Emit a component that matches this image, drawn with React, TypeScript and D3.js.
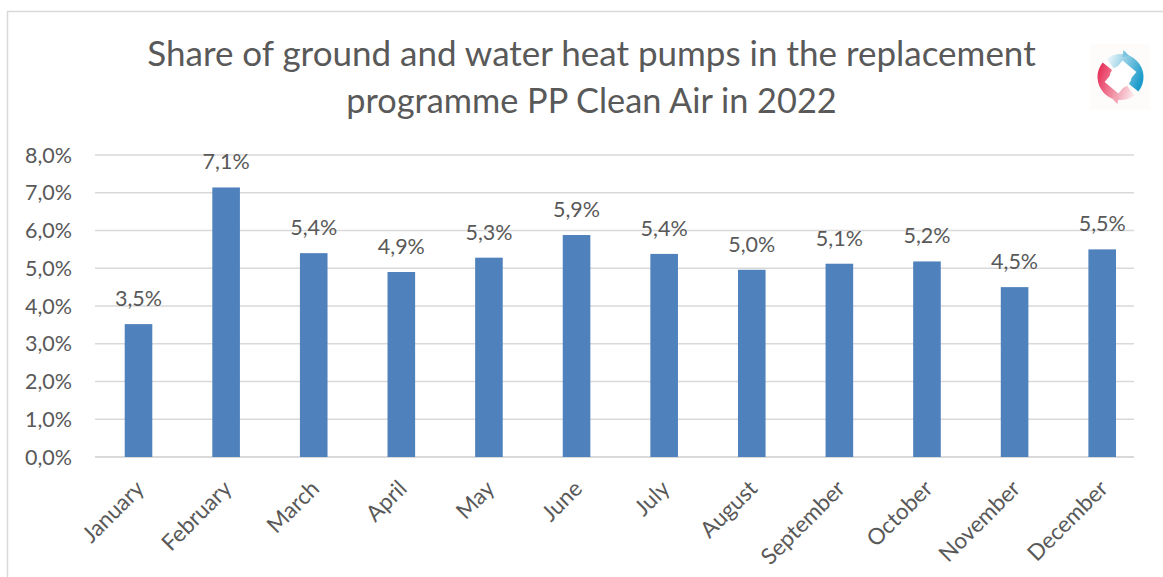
import * as d3 from 'd3';

const categories = ['January', 'February', 'March', 'April', 'May', 'June', 'July', 'August', 'September', 'October', 'November', 'December'];
const shares = [3.52, 7.14, 5.4, 4.9, 5.28, 5.88, 5.38, 4.96, 5.12, 5.18, 4.5, 5.5];
const shareLabels = ['3,5%', '7,1%', '5,4%', '4,9%', '5,3%', '5,9%', '5,4%', '5,0%', '5,1%', '5,2%', '4,5%', '5,5%'];
const yTicks = [0, 1, 2, 3, 4, 5, 6, 7, 8];
const titleLines = ['Share of ground and water heat pumps in the replacement', 'programme PP Clean Air in 2022'];

const width = 1163;
const height = 577;
const font = 'Lato, "Open Sans", sans-serif';
const textColor = '#595959';

export default function App() {
  const x = d3.scaleBand<string>().domain(categories).range([94.7, 1146]).paddingInner(0.685).paddingOuter(0.3425);
  const y = d3.scaleLinear().domain([0, 8]).range([457, 155]);

  // logo, two arrows chasing each other
  const logoX = 1120.5;
  const logoY = 77;
  const blueArc = d3.arc()({ innerRadius: 11, outerRadius: 23, startAngle: -0.65, endAngle: 2.25 }) as string;
  const redArc = d3.arc()({ innerRadius: 11, outerRadius: 23, startAngle: 2.5, endAngle: 5.4 }) as string;

  return (
    <svg
      width={width}
      height={height}
      style={{ position: 'fixed', left: 0, top: 0, background: '#fff' }}
    >
      <defs>
        <linearGradient id="blueGrad" x1="0" y1="0.1" x2="1" y2="0.5">
          <stop offset="0" stopColor="#f2f9fc" />
          <stop offset="0.35" stopColor="#a9d8ea" />
          <stop offset="1" stopColor="#1d9ccb" />
        </linearGradient>
        <linearGradient id="redGrad" x1="0" y1="0.4" x2="1" y2="0.75">
          <stop offset="0" stopColor="#e8375f" />
          <stop offset="0.5" stopColor="#f08fa3" />
          <stop offset="1" stopColor="#fbe6ea" />
        </linearGradient>
      </defs>

      <path d={`M7.5,577V11.5H${width}`} fill="none" stroke="#d9d9d9" strokeWidth={1.5} />

      {titleLines.map((line, i) => (
        <text
          key={line}
          x={591.5}
          y={66 + i * 47}
          textAnchor="middle"
          fontFamily={font}
          fontSize={i === 0 ? 35 : 34.3}
          fill={textColor}
        >
          {line}
        </text>
      ))}

      {yTicks.map((t) => (
        <g key={t}>
          <line x1={95} x2={1134} y1={y(t)} y2={y(t)} stroke="#d9d9d9" strokeWidth={t === 0 ? 2 : 1.5} />
          <text x={72} y={y(t) + 7.5} textAnchor="end" fontFamily={font} fontSize={21.5} fill={textColor}>
            {t.toFixed(1).replace('.', ',')}%
          </text>
        </g>
      ))}

      {categories.map((c, i) => {
        const cx = (x(c) as number) + x.bandwidth() / 2;
        return (
          <g key={c}>
            <rect x={x(c)} y={y(shares[i])} width={x.bandwidth()} height={457 - y(shares[i])} fill="#4f81bd" />
            <text x={cx} y={y(shares[i]) - 18} textAnchor="middle" fontFamily={font} fontSize={21.5} fill={textColor}>
              {shareLabels[i]}
            </text>
            <text
              transform={`translate(${cx + 7},${490}) rotate(-45)`}
              textAnchor="end"
              fontFamily={font}
              fontSize={22.5}
              fill={textColor}
            >
              {c}
            </text>
          </g>
        );
      })}

      <rect x={1090} y={44} width={60} height={66} fill="#fdfcfa" />
      <g transform={`translate(${logoX},${logoY})`}>
        <path d={blueArc} fill="url(#blueGrad)" />
        <path d={redArc} fill="url(#redGrad)" />
        <path d="M3,-27L9,-21L2,-20Z" fill="#7cc4e0" />
        <path d="M-3,27L-9,21L-2,20Z" fill="#f3a3b3" />
        <rect x={-14} y={-9} width={28} height={18} transform="rotate(-50)" fill="#fff" />
      </g>
    </svg>
  );
}
